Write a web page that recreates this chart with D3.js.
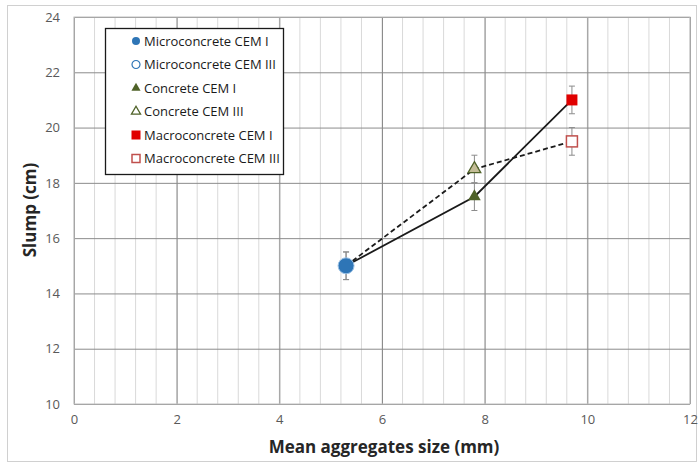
<!DOCTYPE html>
<html>
<head>
<meta charset="utf-8">
<script src="https://cdnjs.cloudflare.com/ajax/libs/d3/7.8.5/d3.min.js"></script>
<style>
  body { margin: 0; background: #fff; }
  svg text { font-family: "Open Sans", "Liberation Sans", sans-serif; }
</style>
</head>
<body>
<div id="chart"></div>
<script>
// data
var sizes = [5.3, 7.8, 9.7];
var slumpCEM1 = [15, 17.5, 21];
var slumpCEM3 = [15, 18.5, 19.5];
var errCEM1 = [0.5, 0.5, 0.5];
var errCEM3 = [0.5, 0.5, 0.5];
var xTicks = [0, 2, 4, 6, 8, 10, 12];
var yTicks = [10, 12, 14, 16, 18, 20, 22, 24];
var legendLabels = ['Microconcrete CEM I', 'Microconcrete CEM III', 'Concrete CEM I',
                    'Concrete CEM III', 'Macroconcrete CEM I', 'Macroconcrete CEM III'];

var W = 700, H = 465;
var margin = {top: 17, right: 10, bottom: 61, left: 74};
var width = W - margin.left - margin.right;
var height = H - margin.top - margin.bottom;

var svg = d3.select('#chart').append('svg')
  .attr('width', W).attr('height', H);

// outer frame
svg.append('rect').attr('x', 7.5).attr('y', 5.5).attr('width', 689).attr('height', 456)
  .attr('fill', '#fff').attr('stroke', '#d0d0d0');

var g = svg.append('g').attr('transform', 'translate(' + margin.left + ',' + margin.top + ')');

var x = d3.scaleLinear().domain([0, 12]).range([0, width]);
var y = d3.scaleLinear().domain([10, 24]).range([height, 0]);

// minor vertical grid
var minor = d3.range(0, 12.001, 0.4);
g.selectAll('.minor').data(minor).enter().append('line')
  .attr('x1', function(d) { return x(d); }).attr('x2', function(d) { return x(d); })
  .attr('y1', 0).attr('y2', height)
  .attr('stroke', '#d9d9d9').attr('stroke-width', 1);

// major grids
g.append('g').call(d3.axisBottom(x).tickValues(xTicks).tickSize(-height).tickFormat(''))
  .attr('transform', 'translate(0,' + height + ')')
  .call(function(s) { s.select('.domain').remove(); s.selectAll('line').attr('stroke', '#8c8c8c'); });
g.append('g').call(d3.axisLeft(y).tickValues(yTicks).tickSize(-width).tickFormat(''))
  .call(function(s) { s.select('.domain').remove(); s.selectAll('line').attr('stroke', '#8c8c8c'); });

g.append('rect').attr('width', width).attr('height', height)
  .attr('fill', 'none').attr('stroke', '#bfbfbf');

// tick labels
var xAxis = g.append('g').attr('transform', 'translate(0,' + height + ')')
  .call(d3.axisBottom(x).tickValues(xTicks).tickSize(0).tickPadding(11));
xAxis.select('.domain').remove();
xAxis.selectAll('text').attr('fill', '#595959').style('font-size', '13px');

var yAxis = g.append('g')
  .call(d3.axisLeft(y).tickValues(yTicks).tickSize(0).tickPadding(14));
yAxis.select('.domain').remove();
yAxis.selectAll('text').attr('fill', '#595959').style('font-size', '13px');

// axis titles
svg.append('text').attr('x', 384).attr('y', 453).attr('text-anchor', 'middle')
  .style('font-size', '17px').style('font-weight', 'bold').attr('fill', '#262626')
  .text('Mean aggregates size (mm)');
svg.append('text').attr('transform', 'translate(36,210) rotate(-90)').attr('text-anchor', 'middle')
  .style('font-size', '17px').style('font-weight', 'bold').attr('fill', '#262626')
  .text('Slump (cm)');

// lines
var line = d3.line().x(function(d) { return x(d[0]); }).y(function(d) { return y(d[1]); });
g.append('path').attr('d', line(d3.zip(sizes, slumpCEM3)))
  .attr('fill', 'none').attr('stroke', '#1a1a1a').attr('stroke-width', 1.8).attr('stroke-dasharray', '5,3');
g.append('path').attr('d', line(d3.zip(sizes, slumpCEM1)))
  .attr('fill', 'none').attr('stroke', '#1a1a1a').attr('stroke-width', 1.8);

// error bars
function errBars(vals, errs) {
  sizes.forEach(function(s, i) {
    var cx = x(s);
    g.append('line').attr('x1', cx).attr('x2', cx)
      .attr('y1', y(vals[i] - errs[i])).attr('y2', y(vals[i] + errs[i]))
      .attr('stroke', '#8c8c8c');
    [vals[i] - errs[i], vals[i] + errs[i]].forEach(function(v) {
      g.append('line').attr('x1', cx - 3).attr('x2', cx + 3)
        .attr('y1', y(v)).attr('y2', y(v)).attr('stroke', '#8c8c8c');
    });
  });
}
errBars(slumpCEM1, errCEM1);
errBars(slumpCEM3, errCEM3);

// markers
var tri = d3.symbol().type(d3.symbolTriangle);
function marker(sel, kind, big) {
  if (kind == 0) sel.append('circle').attr('r', big ? 8 : 4).attr('fill', '#2e75b6').attr('stroke', big ? '#9dc3e6' : 'none');
  if (kind == 1) sel.append('circle').attr('r', 4).attr('fill', '#fff').attr('stroke', '#2e75b6').attr('stroke-width', 1.2);
  if (kind == 2) sel.append('path').attr('d', tri.size(big ? 70 : 36)()).attr('fill', '#4f6228');
  if (kind == 3) sel.append('path').attr('d', tri.size(big ? 70 : 36)()).attr('fill', big ? '#c4bd97' : '#fff').attr('stroke', '#4f6228').attr('stroke-width', 1.3);
  if (kind == 4) { var s = big ? 11 : 9; sel.append('rect').attr('x', -s/2).attr('y', -s/2).attr('width', s).attr('height', s).attr('fill', '#e00000'); }
  if (kind == 5) { var s2 = big ? 11 : 8; sel.append('rect').attr('x', -s2/2).attr('y', -s2/2).attr('width', s2).attr('height', s2).attr('fill', '#fff').attr('stroke', '#c0504d').attr('stroke-width', 1.5); }
}
// concrete and macroconcrete points; microconcrete drawn as one circle (both overlap)
marker(g.append('g').attr('transform', 'translate(' + x(sizes[1]) + ',' + y(slumpCEM3[1]) + ')'), 3, true);
marker(g.append('g').attr('transform', 'translate(' + x(sizes[1]) + ',' + y(slumpCEM1[1]) + ')'), 2, true);
marker(g.append('g').attr('transform', 'translate(' + x(sizes[2]) + ',' + y(slumpCEM3[2]) + ')'), 5, true);
marker(g.append('g').attr('transform', 'translate(' + x(sizes[2]) + ',' + y(slumpCEM1[2]) + ')'), 4, true);
marker(g.append('g').attr('transform', 'translate(' + x(sizes[0]) + ',' + y(slumpCEM1[0]) + ')'), 0, true);

// legend
var lg = svg.append('g').attr('transform', 'translate(105,28)');
lg.append('rect').attr('x', 0.5).attr('y', 0.5).attr('width', 178).attr('height', 146)
  .attr('fill', '#fff').attr('stroke', '#1a1a1a').attr('stroke-width', 1.3);
legendLabels.forEach(function(lab, i) {
  var row = lg.append('g').attr('transform', 'translate(31,' + (13 + i * 23.5) + ')');
  marker(row, i, false);
  row.append('text').attr('x', 8).attr('y', 4.5).style('font-size', '13px').attr('fill', '#1a1a1a').text(lab);
});
</script>
</body>
</html>
